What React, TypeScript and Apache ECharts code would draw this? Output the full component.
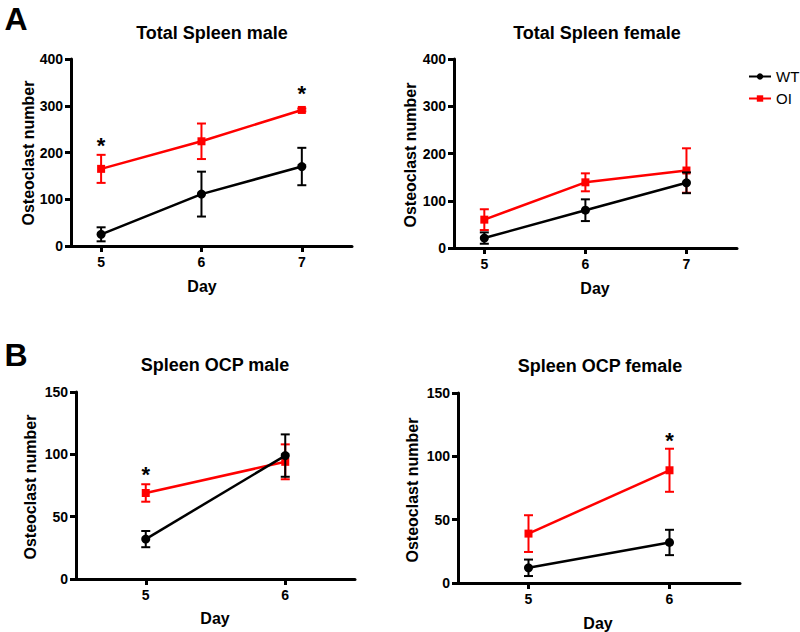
import React, { useEffect, useRef } from "react";
import * as echarts from "echarts";

// ---- data ----
const days3 = [5, 6, 7];
const days2 = [5, 6];

const wtTotalMale = [25, 111, 170];
const wtTotalMaleErr = [15, 48, 40];
const oiTotalMale = [165, 224, 291];
const oiTotalMaleErr = [30, 38, 3];

const wtTotalFemale = [21, 80, 138];
const wtTotalFemaleErr = [12, 23, 22];
const oiTotalFemale = [60, 139, 164];
const oiTotalFemaleErr = [22, 19, 47];

const wtOcpMale = [32, 99];
const wtOcpMaleErr = [6.5, 17];
const oiOcpMale = [69, 94];
const oiOcpMaleErr = [7, 14];

const wtOcpFemale = [12, 32];
const wtOcpFemaleErr = [6.5, 10];
const oiOcpFemale = [39, 89];
const oiOcpFemaleErr = [14.5, 17];

// significance markers [day, value]
const starsTotalMale = [[5, 227], [7, 340]];
const starsTotalFemale: number[][] = [];
const starsOcpMale = [[5, 89]];
const starsOcpFemale = [[6, 117]];

const titles = ["Total Spleen male", "Total Spleen female", "Spleen OCP male", "Spleen OCP female"];
const yTicksTop = [0, 100, 200, 300, 400];
const yTicksBottom = [0, 50, 100, 150];

const FONT = '"Liberation Sans", Arial, Helvetica, sans-serif';
const RED = "#ff0000";
const BLACK = "#000000";

export default function App() {
  const ref = useRef<HTMLDivElement>(null);
  useEffect(() => {
    if (!ref.current) return;
    const chart = echarts.init(ref.current, undefined, { renderer: "svg" });

    const grids = [
      { left: 71, top: 59, width: 281, height: 187 },
      { left: 454, top: 59, width: 283, height: 189 },
      { left: 76, top: 392, width: 279, height: 187 },
      { left: 458, top: 393, width: 282, height: 190 },
    ];

    const xRanges = [
      { min: 4.7, max: 7.5, ticks: days3 },
      { min: 4.7, max: 7.5, ticks: days3 },
      { min: 4.5, max: 6.5, ticks: days2 },
      { min: 4.5, max: 6.5, ticks: days2 },
    ];
    const yRanges = [
      { max: 400, interval: 100, ticks: yTicksTop },
      { max: 400, interval: 100, ticks: yTicksTop },
      { max: 150, interval: 50, ticks: yTicksBottom },
      { max: 150, interval: 50, ticks: yTicksBottom },
    ];

    const axisLine = { show: true, onZero: false, lineStyle: { color: BLACK, width: 3 } };
    const axisTick = { show: true, length: 6, lineStyle: { color: BLACK, width: 3 } };
    const labelStyle = { color: BLACK, fontFamily: FONT, fontWeight: "bold" as const, fontSize: 14 };

    const xAxis = xRanges.map((r, i) => ({
      type: "value",
      gridIndex: i,
      min: r.min,
      max: r.max,
      axisLine,
      axisTick: { ...axisTick, customValues: r.ticks },
      axisLabel: { ...labelStyle, customValues: r.ticks, margin: 9 },
      splitLine: { show: false },
    }));
    const yAxis = yRanges.map((r, i) => ({
      type: "value",
      gridIndex: i,
      min: 0,
      max: r.max,
      interval: r.interval,
      axisLine,
      axisTick,
      axisLabel: { ...labelStyle, margin: 8 },
      splitLine: { show: false },
    }));

    const panels = [
      { days: days3, wt: wtTotalMale, wtE: wtTotalMaleErr, oi: oiTotalMale, oiE: oiTotalMaleErr, stars: starsTotalMale },
      { days: days3, wt: wtTotalFemale, wtE: wtTotalFemaleErr, oi: oiTotalFemale, oiE: oiTotalFemaleErr, stars: starsTotalFemale },
      { days: days2, wt: wtOcpMale, wtE: wtOcpMaleErr, oi: oiOcpMale, oiE: oiOcpMaleErr, stars: starsOcpMale },
      { days: days2, wt: wtOcpFemale, wtE: wtOcpFemaleErr, oi: oiOcpFemale, oiE: oiOcpFemaleErr, stars: starsOcpFemale },
    ];

    const errSeries = (name: string, idx: number, days: number[], vals: number[], errs: number[], color: string, z: number) => ({
      type: "custom",
      name,
      xAxisIndex: idx,
      yAxisIndex: idx,
      z,
      silent: true,
      clip: false,
      encode: { x: 0, y: 1 },
      data: days.map((d, k) => [d, vals[k], errs[k]]),
      renderItem: (_p: any, api: any) => {
        const x = api.value(0);
        const y = api.value(1);
        const e = api.value(2);
        const t = api.coord([x, y + e]);
        const b = api.coord([x, y - e]);
        const hw = 4.5;
        const st = { stroke: color, lineWidth: 2 };
        return {
          type: "group",
          children: [
            { type: "line", shape: { x1: t[0], y1: t[1], x2: b[0], y2: b[1] }, style: st },
            { type: "line", shape: { x1: t[0] - hw, y1: t[1], x2: t[0] + hw, y2: t[1] }, style: st },
            { type: "line", shape: { x1: b[0] - hw, y1: b[1], x2: b[0] + hw, y2: b[1] }, style: st },
          ],
        };
      },
    });

    const series: any[] = [];
    panels.forEach((p, i) => {
      series.push({
        type: "line",
        name: "OI",
        xAxisIndex: i,
        yAxisIndex: i,
        data: p.days.map((d, k) => [d, p.oi[k]]),
        symbol: "rect",
        symbolSize: 8,
        color: RED,
        lineStyle: { color: RED, width: 2.5 },
        itemStyle: { color: RED },
        z: 2,
      });
      series.push(errSeries("OI-err", i, p.days, p.oi, p.oiE, RED, 2));
      series.push({
        type: "line",
        name: "WT",
        xAxisIndex: i,
        yAxisIndex: i,
        data: p.days.map((d, k) => [d, p.wt[k]]),
        symbol: "circle",
        symbolSize: 9,
        color: BLACK,
        lineStyle: { color: BLACK, width: 2.5 },
        itemStyle: { color: BLACK },
        z: 3,
      });
      series.push(errSeries("WT-err", i, p.days, p.wt, p.wtE, BLACK, 3));
      if (p.stars.length) {
        series.push({
          type: "custom",
          name: "sig",
          xAxisIndex: i,
          yAxisIndex: i,
          silent: true,
          clip: false,
          encode: { x: 0, y: 1 },
          data: p.stars,
          renderItem: (_p: any, api: any) => {
            const c = api.coord([api.value(0), api.value(1)]);
            return {
              type: "text",
              x: c[0],
              y: c[1] + 6,
              style: {
                text: "*",
                fill: BLACK,
                font: `bold 22px ${FONT}`,
                align: "center",
                verticalAlign: "middle",
              },
            };
          },
        });
      }
    });

    const txt = (text: string, x: number, y: number, size: number, bold = true, rot = 0) => ({
      type: "text",
      x,
      y,
      rotation: rot,
      silent: true,
      style: {
        text,
        fill: BLACK,
        font: `${bold ? "bold " : ""}${size}px ${FONT}`,
        align: "center",
        verticalAlign: "middle",
        textAlign: "center",
        textVerticalAlign: "middle",
      },
    });

    const graphic = [
      txt("A", 16, 19, 32),
      txt("B", 16, 355, 32),
      txt(titles[0], 212, 33, 18),
      txt(titles[1], 597, 33, 18),
      txt(titles[2], 215, 365, 18),
      txt(titles[3], 600, 366, 18),
      txt("Osteoclast number", 28, 153, 16, true, Math.PI / 2),
      txt("Osteoclast number", 410, 155, 16, true, Math.PI / 2),
      txt("Osteoclast number", 30, 487, 16, true, Math.PI / 2),
      txt("Osteoclast number", 412, 490, 16, true, Math.PI / 2),
      txt("Day", 202, 286, 16),
      txt("Day", 595, 288, 16),
      txt("Day", 215, 618, 16),
      txt("Day", 598, 623, 16),
    ];

    chart.setOption({
      animation: false,
      backgroundColor: "#ffffff",
      grid: grids,
      xAxis,
      yAxis,
      legend: {
        data: ["WT", "OI"],
        orient: "vertical",
        left: 743,
        top: 64,
        itemWidth: 22,
        itemHeight: 8,
        itemGap: 7,
        selectedMode: false,
        textStyle: { color: BLACK, fontFamily: FONT, fontSize: 15 },
      },
      graphic,
      series,
    });

    return () => chart.dispose();
  }, []);

  return <div ref={ref} style={{ position: "absolute", left: 0, top: 0, width: 800, height: 632 }} />;
}
